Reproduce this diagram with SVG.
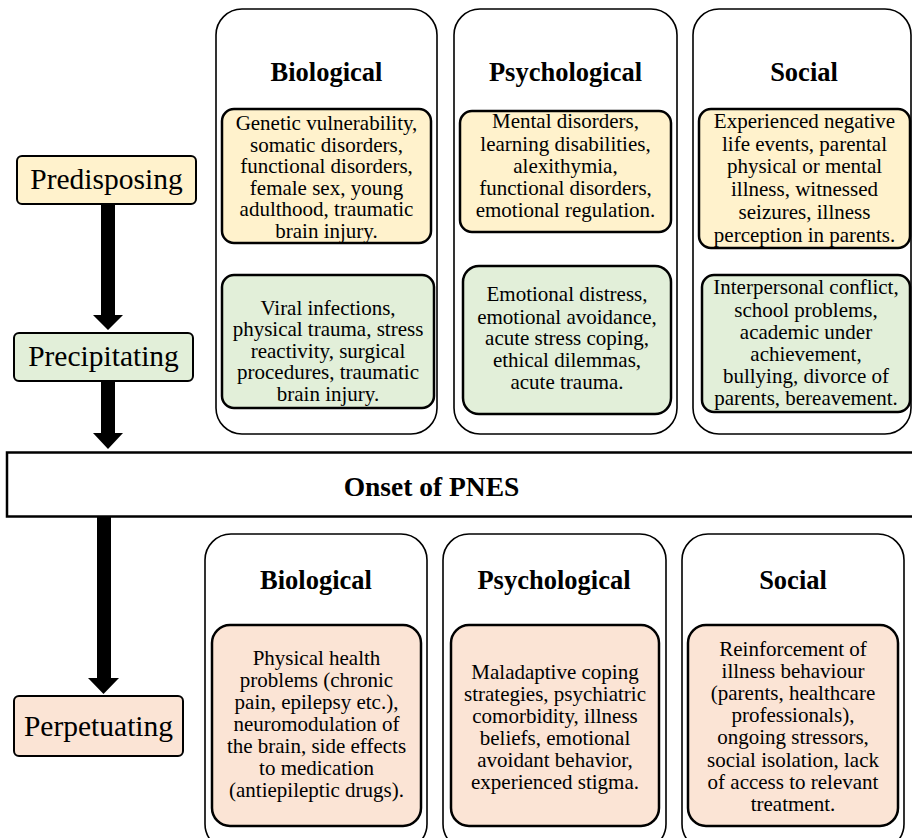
<svg xmlns="http://www.w3.org/2000/svg" width="912" height="838" viewBox="0 0 912 838">
<style>
.bg{fill:#ffffff}
.cont{fill:#ffffff;stroke:#000;stroke-width:1.6}
.yel{fill:#FFF2CC;stroke:#000;stroke-width:2.5}
.grn{fill:#E2EFD9;stroke:#000;stroke-width:2.5}
.pch{fill:#FBE4D5;stroke:#000;stroke-width:2.5}
.lbl{stroke:#000;stroke-width:2}
.onset{fill:#ffffff;stroke:#000;stroke-width:2.5}
text{fill:#000;text-anchor:middle}
.h{font-size:26.5px;font-weight:bold}
.b{font-size:21px}
.l{font-size:29.5px}
.arrow{fill:#000}
</style>
<rect class="bg" x="0" y="0" width="912" height="838"/>

<g id="connectors">
<polygon class="arrow" points="101,204 115,204 115,315 123,315 108,330 93,315 101,315"/>
<polygon class="arrow" points="101,381 115,381 115,433 123,433 108,449 93,433 101,433"/>
<polygon class="arrow" points="97,517 111,517 111,678 119,678 103.5,694 88,678 97,678"/>
</g>

<g font-family="'Liberation Serif', 'DejaVu Serif', serif">
<g id="top-biological">
<rect class="cont" x="216" y="9" width="221" height="425" rx="26"/>
<text class="h" x="326.5" y="81">Biological</text>
</g>
<g id="top-psychological">
<rect class="cont" x="454" y="9" width="223" height="425" rx="26"/>
<text class="h" x="565.5" y="81">Psychological</text>
</g>
<g id="top-social">
<rect class="cont" x="693" y="9" width="218" height="425" rx="26"/>
<text class="h" x="804" y="81">Social</text>
</g>

<g id="predisposing-biological">
<rect class="yel" x="222" y="109" width="209" height="134" rx="12"/>
<text class="b" x="326.5" y="130">Genetic vulnerability,</text>
<text class="b" x="326.5" y="151.6">somatic disorders,</text>
<text class="b" x="326.5" y="173.2">functional disorders,</text>
<text class="b" x="326.5" y="194.8">female sex, young</text>
<text class="b" x="326.5" y="216.4">adulthood, traumatic</text>
<text class="b" x="326.5" y="238">brain injury.</text>
</g>
<g id="predisposing-psychological">
<rect class="yel" x="460" y="111" width="211" height="121" rx="12"/>
<text class="b" x="565.5" y="128.3">Mental disorders,</text>
<text class="b" x="565.5" y="150.5">learning disabilities,</text>
<text class="b" x="565.5" y="172.7">alexithymia,</text>
<text class="b" x="565.5" y="195">functional disorders,</text>
<text class="b" x="565.5" y="217.2">emotional regulation.</text>
</g>
<g id="predisposing-social">
<rect class="yel" x="699" y="109" width="211" height="139" rx="12"/>
<text class="b" x="804.5" y="128">Experienced negative</text>
<text class="b" x="804.5" y="150.7">life events, parental</text>
<text class="b" x="804.5" y="173.4">physical or mental</text>
<text class="b" x="804.5" y="196.1">illness, witnessed</text>
<text class="b" x="804.5" y="218.8">seizures, illness</text>
<text class="b" x="804.5" y="241.5">perception in parents.</text>
</g>

<g id="precipitating-biological">
<rect class="grn" x="222" y="275" width="212" height="133" rx="12"/>
<text class="b" x="328" y="314.5">Viral infections,</text>
<text class="b" x="328" y="336">physical trauma, stress</text>
<text class="b" x="328" y="357.5">reactivity, surgical</text>
<text class="b" x="328" y="379">procedures, traumatic</text>
<text class="b" x="328" y="400.5">brain injury.</text>
</g>
<g id="precipitating-psychological">
<rect class="grn" x="463" y="266" width="208" height="148" rx="16"/>
<text class="b" x="567" y="301.3">Emotional distress,</text>
<text class="b" x="567" y="323.5">emotional avoidance,</text>
<text class="b" x="567" y="345.3">acute stress coping,</text>
<text class="b" x="567" y="367">ethical dilemmas,</text>
<text class="b" x="567" y="388.7">acute trauma.</text>
</g>
<g id="precipitating-social">
<rect class="grn" x="702" y="275" width="208" height="137" rx="12"/>
<text class="b" x="806" y="294.3">Interpersonal conflict,</text>
<text class="b" x="806" y="316.5">school problems,</text>
<text class="b" x="806" y="338.7">academic under</text>
<text class="b" x="806" y="361">achievement,</text>
<text class="b" x="806" y="383.2">bullying, divorce of</text>
<text class="b" x="806" y="405.4">parents, bereavement.</text>
</g>

<g id="predisposing">
<rect class="lbl" fill="#FFF2CC" x="17" y="156" width="179" height="48" rx="5"/>
<text class="l" x="106.5" y="188.5">Predisposing</text>
</g>
<g id="precipitating">
<rect class="lbl" fill="#E2EFD9" x="14" y="333" width="179" height="48" rx="5"/>
<text class="l" x="103.5" y="365.5">Precipitating</text>
</g>

<g id="onset">
<rect class="onset" x="7" y="452.5" width="920" height="64"/>
<text class="h" style="font-size:27.5px" x="431.5" y="496">Onset of PNES</text>
</g>

<g id="perpetuating">
<rect class="lbl" fill="#FBE4D5" x="14" y="696" width="169" height="60" rx="5"/>
<text class="l" x="98.5" y="735.5">Perpetuating</text>
</g>

<g id="bottom-biological">
<rect class="cont" x="205" y="534" width="222" height="316" rx="26"/>
<text class="h" x="316" y="588.5">Biological</text>
</g>
<g id="bottom-psychological">
<rect class="cont" x="443" y="534" width="223" height="316" rx="26"/>
<text class="h" x="554" y="588.5">Psychological</text>
</g>
<g id="bottom-social">
<rect class="cont" x="682" y="534" width="222" height="316" rx="26"/>
<text class="h" x="793" y="588.5">Social</text>
</g>

<g id="perpetuating-biological">
<rect class="pch" x="212" y="625" width="209" height="201" rx="18"/>
<text class="b" x="316.5" y="665">Physical health</text>
<text class="b" x="316.5" y="687">problems (chronic</text>
<text class="b" x="316.5" y="709">pain, epilepsy etc.),</text>
<text class="b" x="316.5" y="731">neuromodulation of</text>
<text class="b" x="316.5" y="753">the brain, side effects</text>
<text class="b" x="316.5" y="775">to medication</text>
<text class="b" x="316.5" y="797">(antiepileptic drugs).</text>
</g>
<g id="perpetuating-psychological">
<rect class="pch" x="451" y="625" width="208" height="201" rx="18"/>
<text class="b" x="555" y="678.5">Maladaptive coping</text>
<text class="b" x="555" y="700.5">strategies, psychiatric</text>
<text class="b" x="555" y="722.5">comorbidity, illness</text>
<text class="b" x="555" y="744.5">beliefs, emotional</text>
<text class="b" x="555" y="766.5">avoidant behavior,</text>
<text class="b" x="555" y="788.5">experienced stigma.</text>
</g>
<g id="perpetuating-social">
<rect class="pch" x="688" y="625" width="210" height="201" rx="18"/>
<text class="b" x="793" y="655.5">Reinforcement of</text>
<text class="b" x="793" y="677.7">illness behaviour</text>
<text class="b" x="793" y="699.9">(parents, healthcare</text>
<text class="b" x="793" y="722.1">professionals),</text>
<text class="b" x="793" y="744.3">ongoing stressors,</text>
<text class="b" x="793" y="766.5">social isolation, lack</text>
<text class="b" x="793" y="788.7">of access to relevant</text>
<text class="b" x="793" y="810.9">treatment.</text>
</g>
</g>
</svg>
